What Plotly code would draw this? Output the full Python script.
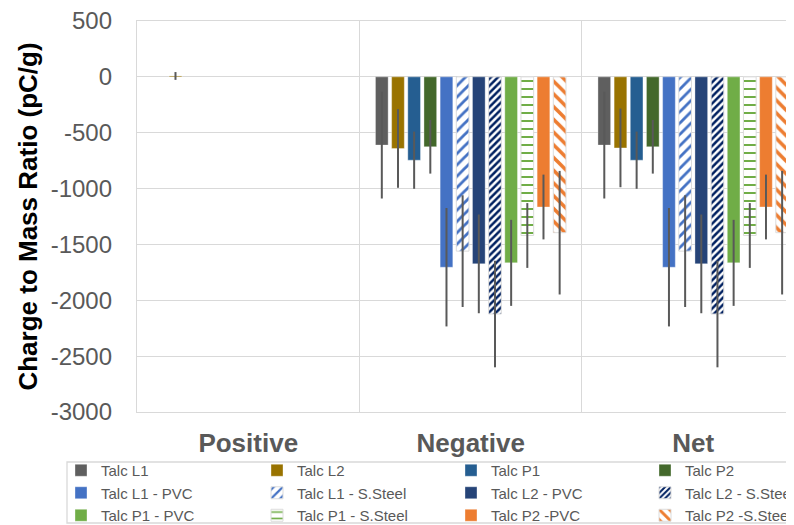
import plotly.graph_objects as go

categories = ["Positive", "Negative", "Net"]

series_names = [
    "Talc L1", "Talc L2", "Talc P1", "Talc P2",
    "Talc L1 - PVC", "Talc L1 - S.Steel", "Talc L2 - PVC", "Talc L2 - S.Steel",
    "Talc P1 - PVC", "Talc P1 - S.Steel", "Talc P2 -PVC", "Talc P2 -S.Steel",
]

positive_vals = [None, 8, None, None, None, None, None, None, None, None, None, None]
positive_err = [0, 35, 0, 0, 0, 0, 0, 0, 0, 0, 0, 0]

negative_vals = [-611, -641, -746, -626, -1704, -1560, -1674, -2123, -1665, -1420, -1165, -1395]
negative_err = [478, 352, 256, 240, 530, 500, 442, 477, 385, 290, 290, 553]

net_vals = [-611, -636, -746, -626, -1704, -1560, -1674, -2123, -1665, -1420, -1165, -1395]
net_err = [478, 352, 256, 240, 530, 500, 442, 477, 385, 290, 290, 553]

y_tick_vals = [500, 0, -500, -1000, -1500, -2000, -2500, -3000]
y_tick_text = ["500", "0", "-500", "-1000", "-1500", "-2000", "-2500", "-3000"]

colors = ["#5f5f5f", "#997300", "#255e91", "#43682b",
          "#4472c4", "#4472c4", "#264478", "#002060",
          "#70ad47", "#70ad47", "#ed7d31", "#ed7d31"]
patterns = ["", "", "", "", "", "/", "", "/", "", "-", "", "\\"]
pattern_sizes = [8, 8, 8, 8, 8, 8, 8, 5, 8, 8, 8, 9]
pattern_solid = [0.3, 0.3, 0.3, 0.3, 0.3, 0.35, 0.3, 0.5, 0.3, 0.25, 0.3, 0.4]

FONT = "Arial, 'Liberation Sans', sans-serif"
GRID = "#d9d9d9"

# the page has an 8px body margin: work in page pixels, convert to figure pixels
OFF = 8
W, H = 794 - OFF, 525 - OFF
PL, PR, PT, PB = 137 - OFF, 794 - OFF, 21 - OFF, 412 - OFF
pw, ph = PR - PL, PB - PT

def px_x(page_x):
    return (page_x - OFF - PL) / pw

def px_y(page_y):
    return (PB - (page_y - OFF)) / ph

legend_cols = [61, 257, 451, 645]
legend_names = ["legend", "legend2", "legend3", "legend4"]

fig = go.Figure()
for i, name in enumerate(series_names):
    vals = [positive_vals[i], negative_vals[i], net_vals[i]]
    errs = [positive_err[i], negative_err[i], net_err[i]]
    if patterns[i]:
        marker = dict(
            color="white",
            pattern=dict(shape=patterns[i], fgcolor=colors[i], bgcolor="white",
                         size=pattern_sizes[i], solidity=pattern_solid[i],
                         fillmode="replace"),
            line=dict(color="#dcdcdc", width=1),
        )
    else:
        marker = dict(color=colors[i], line=dict(color="rgba(255,255,255,0.35)", width=1))
    fig.add_trace(go.Bar(
        x=categories, y=vals, name=name, marker=marker,
        legend=legend_names[i % 4],
        error_y=dict(type="data", array=errs, visible=True, color="#595959",
                     thickness=2, width=0),
    ))

legend_common = dict(
    orientation="v", xanchor="left", yanchor="top", y=px_y(454),
    itemwidth=30, traceorder="normal", bgcolor="rgba(0,0,0,0)", borderwidth=0,
    font=dict(family=FONT, size=15, color="#595959"),
)

layout_legends = {}
for k, ln in enumerate(legend_names):
    layout_legends[ln] = dict(legend_common, x=px_x(legend_cols[k]))

fig.update_layout(
    width=W, height=H,
    margin=dict(l=PL, r=W - PR, t=PT, b=H - PB, autoexpand=False),
    paper_bgcolor="white", plot_bgcolor="white",
    barmode="group", bargap=0.128, bargroupgap=0.215,
    font=dict(family=FONT, color="#595959"),
    showlegend=True,
    **layout_legends,
    xaxis=dict(
        type="category", range=[-0.5, 2.453], automargin=False,
        tickson="boundaries", showgrid=True, gridcolor=GRID, gridwidth=1.3,
        ticks="", showline=True, linecolor=GRID, linewidth=1.3, mirror=True,
        zeroline=False,
        tickfont=dict(family=FONT, size=26, color="#595959", weight="bold"),
        ticklabelstandoff=8,
    ),
    yaxis=dict(
        range=[-3000, 500], tickmode="array", tickvals=y_tick_vals, ticktext=y_tick_text,
        automargin=False, ticklabeloverflow="allow",
        showgrid=True, gridcolor=GRID, gridwidth=1.3, zeroline=False,
        showline=True, linecolor=GRID, linewidth=1.3, mirror=False, ticks="",
        tickfont=dict(family=FONT, size=24, color="#595959"),
        ticklabelstandoff=19,
        title=dict(text="Charge to Mass Ratio (pC/g)",
                   font=dict(family=FONT, size=26, color="#000000", weight="bold"),
                   standoff=5),
    ),
    shapes=[dict(type="rect", xref="paper", yref="paper",
                 x0=px_x(67), x1=px_x(791), y0=px_y(523), y1=px_y(462),
                 line=dict(color=GRID, width=1.3), fillcolor="rgba(0,0,0,0)",
                 layer="below")],
)

fig.write_html("out.html")
